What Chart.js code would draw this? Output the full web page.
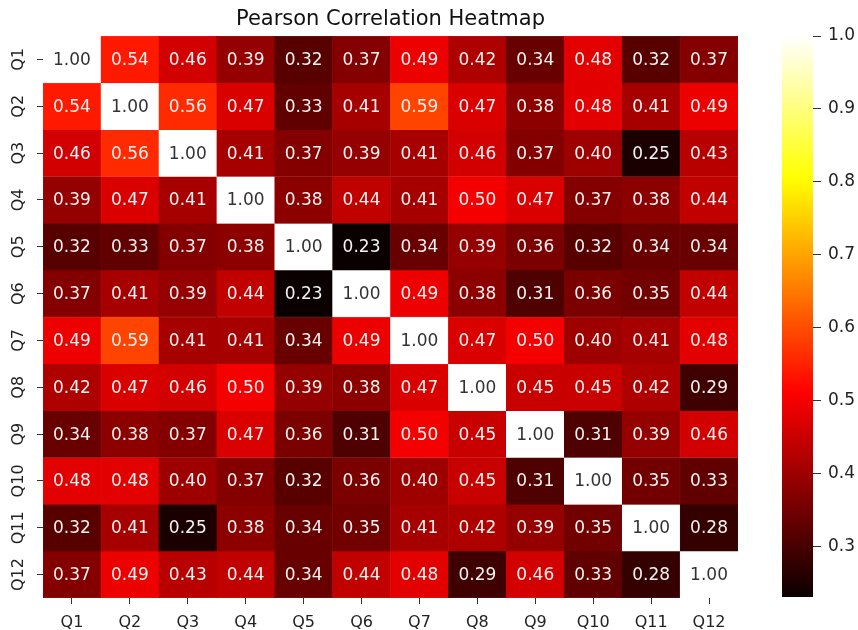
<!DOCTYPE html>
<html><head><meta charset="utf-8">
<script src="https://cdn.jsdelivr.net/npm/chart.js@4"></script>
<style>
html,body{margin:0;padding:0;background:#fff;width:858px;height:630px;overflow:hidden}
#wrap{position:relative;width:858px;height:630px}
#c1{position:absolute;left:0;top:0}
#c2{position:absolute;left:760px;top:0}
</style></head><body>
<div id="wrap"><canvas id="c1" width="858" height="630"></canvas><canvas id="c2" width="98" height="630"></canvas></div>
<script>
const labels = ['Q1','Q2','Q3','Q4','Q5','Q6','Q7','Q8','Q9','Q10','Q11','Q12'];
const q1  = [1.00,0.54,0.46,0.39,0.32,0.37,0.49,0.42,0.34,0.48,0.32,0.37];
const q2  = [0.54,1.00,0.56,0.47,0.33,0.41,0.59,0.47,0.38,0.48,0.41,0.49];
const q3  = [0.46,0.56,1.00,0.41,0.37,0.39,0.41,0.46,0.37,0.40,0.25,0.43];
const q4  = [0.39,0.47,0.41,1.00,0.38,0.44,0.41,0.50,0.47,0.37,0.38,0.44];
const q5  = [0.32,0.33,0.37,0.38,1.00,0.23,0.34,0.39,0.36,0.32,0.34,0.34];
const q6  = [0.37,0.41,0.39,0.44,0.23,1.00,0.49,0.38,0.31,0.36,0.35,0.44];
const q7  = [0.49,0.59,0.41,0.41,0.34,0.49,1.00,0.47,0.50,0.40,0.41,0.48];
const q8  = [0.42,0.47,0.46,0.50,0.39,0.38,0.47,1.00,0.45,0.45,0.42,0.29];
const q9  = [0.34,0.38,0.37,0.47,0.36,0.31,0.50,0.45,1.00,0.31,0.39,0.46];
const q10 = [0.48,0.48,0.40,0.37,0.32,0.36,0.40,0.45,0.31,1.00,0.35,0.33];
const q11 = [0.32,0.41,0.25,0.38,0.34,0.35,0.41,0.42,0.39,0.35,1.00,0.28];
const q12 = [0.37,0.49,0.43,0.44,0.34,0.44,0.48,0.29,0.46,0.33,0.28,1.00];
const matrix = [q1,q2,q3,q4,q5,q6,q7,q8,q9,q10,q11,q12];
const vmin = 0.231, vmax = 1.0;
const cbTicks = [0.3,0.4,0.5,0.6,0.7,0.8,0.9,1.0];

function hotRGB(v){
  const t = Math.min(1, Math.max(0, (v - vmin) / (vmax - vmin)));
  const a = 0.365079, b = 0.746032;
  const r = t < a ? 0.0416 + (1 - 0.0416) * t / a : 1;
  const g = t < a ? 0 : (t < b ? (t - a) / (b - a) : 1);
  const bl = t < b ? 0 : (t - b) / (1 - b);
  return [r, g, bl];
}
function hot(v){ const c = hotRGB(v); return `rgb(${Math.round(c[0]*255)},${Math.round(c[1]*255)},${Math.round(c[2]*255)})`; }
function lum(v){
  const c = hotRGB(v).map(x => x <= 0.03928 ? x/12.92 : Math.pow((x+0.055)/1.055, 2.4));
  return 0.2126*c[0] + 0.7152*c[1] + 0.0722*c[2];
}

const FONT = 'DejaVu Sans';

const cellText = {
  id: 'cellText',
  afterDatasetsDraw(chart){
    const ctx = chart.ctx;
    ctx.save();
    ctx.font = `17px "${FONT}"`;
    ctx.textAlign = 'center';
    ctx.textBaseline = 'middle';
    chart.data.datasets.forEach((ds, i) => {
      const meta = chart.getDatasetMeta(i);
      meta.data.forEach((el, j) => {
        const v = matrix[i][j];
        ctx.fillStyle = lum(v) > 0.408 ? '#333333' : '#f2f2f2';
        ctx.fillText(v.toFixed(2), el.x, (el.y + el.base) / 2 + 1);
      });
    });
    ctx.restore();
  },
  afterDraw(chart){
    const ctx = chart.ctx, ys = chart.scales.y;
    ctx.save();
    ctx.font = `16px "${FONT}"`;
    ctx.fillStyle = '#222';
    ctx.textAlign = 'center';
    ctx.textBaseline = 'middle';
    labels.forEach((lab, i) => {
      const y = ys.getPixelForValue(i);
      ctx.save();
      ctx.translate(19, y);
      ctx.rotate(-Math.PI/2);
      ctx.fillText(lab, 0, 0);
      ctx.restore();
    });
    ctx.restore();
  }
};

new Chart(document.getElementById('c1'), {
  type: 'bar',
  data: {
    labels: labels,
    datasets: matrix.map((row, i) => ({
      data: row.map(() => [i - 0.5, i + 0.5]),
      backgroundColor: row.map(v => hot(v)),
      borderColor: row.map(v => hot(v)),
      borderWidth: 0.5,
      borderSkipped: false,
      barPercentage: 1,
      categoryPercentage: 1,
      grouped: false
    }))
  },
  options: {
    responsive: false,
    animation: false,
    layout: {padding: {left: 0, right: 120, top: 0, bottom: 0}},
    plugins: {
      legend: {display: false},
      tooltip: {enabled: false},
      title: {display: true, text: 'Pearson Correlation Heatmap', fullSize: false,
        font: {family: FONT, size: 21, weight: 'normal'}, color: '#111',
        padding: {top: 7, bottom: 3.8}}
    },
    scales: {
      x: {
        type: 'category', offset: true,
        grid: {display: true, offset: false, drawOnChartArea: false, drawTicks: true, tickLength: 6, color: '#333'},
        border: {display: false},
        ticks: {font: {family: FONT, size: 16}, color: '#222', padding: 9, maxRotation: 0, autoSkip: false},
        afterFit: a => { a.height = 32; }
      },
      y: {
        type: 'linear', min: -0.5, max: 11.5, reverse: true,
        afterBuildTicks: a => { a.ticks = labels.map((_, i) => ({value: i})); },
        grid: {display: true, drawOnChartArea: false, drawTicks: true, tickLength: 6, color: '#333'},
        border: {display: false},
        ticks: {display: false},
        afterFit: a => { a.width = 43; }
      }
    }
  },
  plugins: [cellText]
});

new Chart(document.getElementById('c2'), {
  type: 'bar',
  data: {
    labels: ['cb'],
    datasets: [{
      data: [[vmin, vmax]],
      backgroundColor: (c) => {
        const a = c.chart.chartArea;
        if (!a) return '#000';
        const g = c.chart.ctx.createLinearGradient(0, a.bottom, 0, a.top);
        for (let k = 0; k <= 60; k++) { const t = k / 60; g.addColorStop(t, hot(vmin + t * (vmax - vmin))); }
        return g;
      },
      borderWidth: 0,
      barPercentage: 1,
      categoryPercentage: 1
    }]
  },
  options: {
    responsive: false,
    animation: false,
    layout: {padding: {left: 22, top: 36, bottom: 33, right: 0}},
    plugins: {legend: {display: false}, tooltip: {enabled: false}},
    scales: {
      x: {display: false},
      y: {
        position: 'right', min: vmin, max: vmax,
        afterBuildTicks: a => { a.ticks = cbTicks.map(v => ({value: v})); },
        ticks: {callback: v => Number(v).toFixed(1), font: {family: FONT, size: 17}, color: '#222', padding: 7},
        grid: {drawOnChartArea: false, drawTicks: true, tickLength: 8, color: '#333'},
        border: {display: false},
        afterFit: a => { a.width = 45; }
      }
    }
  }
});
</script>
</body></html>
